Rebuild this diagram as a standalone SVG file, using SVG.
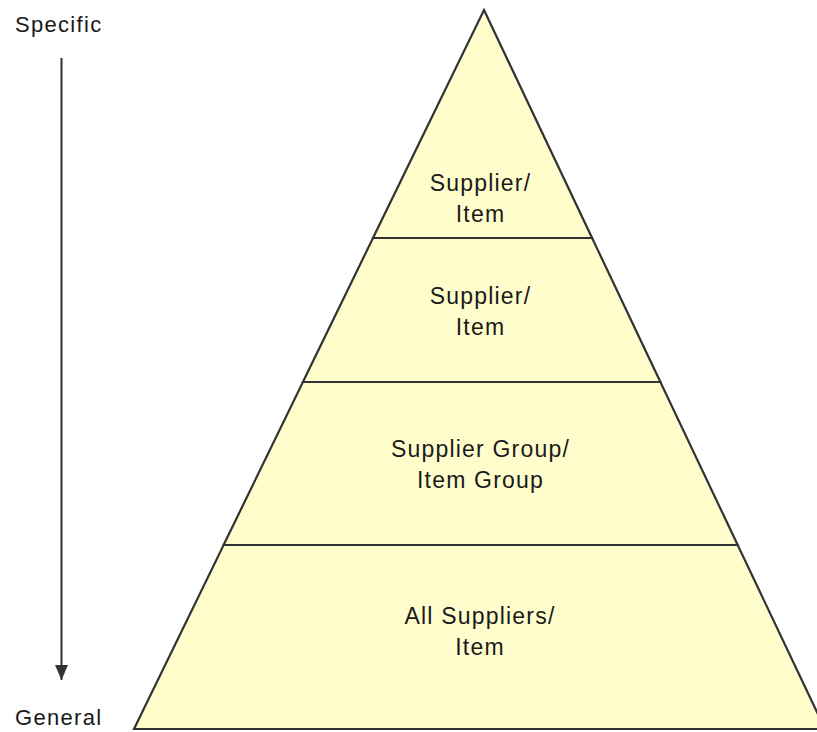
<svg xmlns="http://www.w3.org/2000/svg" width="817" height="732" viewBox="0 0 817 732">
<style>
.band{fill:#FFFDCC;stroke:#333333;stroke-width:2.2;stroke-linejoin:miter}
.lbl{font-family:"Liberation Sans",Arial,sans-serif;font-size:23px;fill:#1a1a1a;text-anchor:middle;letter-spacing:1.2px}
.side{font-family:"Liberation Sans",Arial,sans-serif;font-size:22px;fill:#1a1a1a;letter-spacing:1.3px}
.conn{stroke:#333333;stroke-width:2;fill:none}
</style>
<defs>
<marker id="ah" markerWidth="16" markerHeight="14" refX="15" refY="6.5" orient="auto" markerUnits="userSpaceOnUse" viewBox="0 0 16 13">
<path d="M0,0 L15,6.5 L0,13 Z" fill="#333333"/>
</marker>
</defs>
<rect width="817" height="732" fill="#ffffff"/>
<g id="specific"><text class="side" x="15" y="32">Specific</text></g>
<g id="general"><text class="side" x="15" y="725">General</text></g>
<g id="connectors">
<line class="conn" x1="61.5" y1="58" x2="61.5" y2="680" marker-end="url(#ah)"/>
</g>
<g id="level4">
<polygon class="band" points="223.6,545 737.7,545 825,729 134,729"/>
<text class="lbl" x="480" y="624">All Suppliers/</text>
<text class="lbl" x="480" y="655">Item</text>
</g>
<g id="level3">
<polygon class="band" points="302.9,382 660.4,382 737.7,545 223.6,545"/>
<text class="lbl" x="480.5" y="457">Supplier Group/</text>
<text class="lbl" x="480.5" y="488">Item Group</text>
</g>
<g id="level2">
<polygon class="band" points="373,238 592.1,238 660.4,382 302.9,382"/>
<text class="lbl" x="480.5" y="304">Supplier/</text>
<text class="lbl" x="480.5" y="335">Item</text>
</g>
<g id="level1">
<polygon class="band" points="484,10 592.1,238 373,238"/>
<text class="lbl" x="480.5" y="191">Supplier/</text>
<text class="lbl" x="480.5" y="222">Item</text>
</g>
</svg>
